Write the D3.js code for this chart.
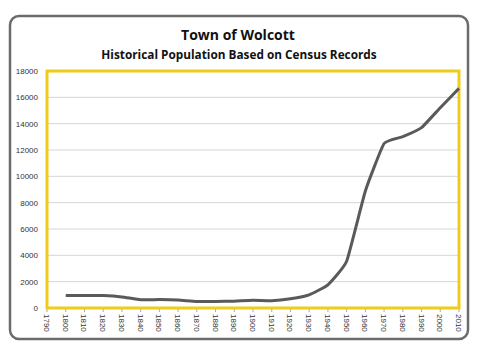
<!DOCTYPE html>
<html>
<head>
<meta charset="utf-8">
<script src="https://cdn.jsdelivr.net/npm/d3@7"></script>
<style>
  body { margin: 0; background: #fff; }
  svg { display: block; }
</style>
</head>
<body>
<script>
const years = ['1790','1800','1810','1820','1830','1840','1850','1860','1870','1880','1890','1900',
  '1910','1920','1930','1940','1950','1960','1970','1980','1990','2000','2010'];
// 1790 has no census value
const population = [null, 952, 958, 942, 843, 633, 640, 600, 491, 493, 520, 580,
  550, 700, 1000, 1765, 3553, 8889, 12495, 13008, 13700, 15215, 16680];
const yTicks = [0, 2000, 4000, 6000, 8000, 10000, 12000, 14000, 16000, 18000];

const width = 483, height = 351;
const margin = { top: 71, right: 24, bottom: 43, left: 47 };

const svg = d3.select('body').append('svg')
  .attr('width', width)
  .attr('height', height);

// outer rounded frame
svg.append('rect')
  .attr('x', 10).attr('y', 16)
  .attr('width', 458).attr('height', 323)
  .attr('rx', 9)
  .attr('fill', '#fff')
  .attr('stroke', '#6b6b6b')
  .attr('stroke-width', 2.5);

svg.append('text')
  .attr('x', 238).attr('y', 40)
  .attr('text-anchor', 'middle')
  .style('font', 'bold 14px "Open Sans", sans-serif')
  .attr('fill', '#111')
  .text('Town of Wolcott');

svg.append('text')
  .attr('x', 239).attr('y', 59)
  .attr('text-anchor', 'middle')
  .style('font', 'bold 11.8px "Open Sans", sans-serif')
  .attr('fill', '#111')
  .text('Historical Population Based on Census Records');

const x = d3.scalePoint()
  .domain(years)
  .range([margin.left, width - margin.right]);

const y = d3.scaleLinear()
  .domain([0, 18000])
  .range([height - margin.bottom, margin.top]);

// gridlines
svg.append('g')
  .selectAll('line')
  .data(yTicks)
  .join('line')
  .attr('x1', margin.left).attr('x2', width - margin.right)
  .attr('y1', d => y(d)).attr('y2', d => y(d))
  .attr('stroke', '#d6d6d6')
  .attr('stroke-width', 1);

// y labels
svg.append('g')
  .selectAll('text')
  .data(yTicks)
  .join('text')
  .attr('x', 38)
  .attr('y', d => y(d) + 3)
  .attr('text-anchor', 'end')
  .style('font', '8px "Liberation Sans Narrow", "Liberation Sans", sans-serif')
  .attr('fill', '#333')
  .text(d => d);

// x tick marks
svg.append('g')
  .selectAll('line')
  .data(years)
  .join('line')
  .attr('x1', d => x(d)).attr('x2', d => x(d))
  .attr('y1', y(0)).attr('y2', y(0) + 4)
  .attr('stroke', '#aaa');

// x labels, rotated
svg.append('g')
  .selectAll('text')
  .data(years)
  .join('text')
  .attr('transform', d => `translate(${x(d) - 3},${y(0) + 6}) rotate(90)`)
  .attr('text-anchor', 'start')
  .style('font', '8px "Liberation Sans Narrow", "Liberation Sans", sans-serif')
  .attr('fill', '#333')
  .text(d => d);

// plot area border
svg.append('rect')
  .attr('x', margin.left).attr('y', margin.top)
  .attr('width', width - margin.left - margin.right)
  .attr('height', height - margin.top - margin.bottom)
  .attr('fill', 'none')
  .attr('stroke', '#f0cc1a')
  .attr('stroke-width', 3);

const line = d3.line()
  .defined(d => d.v != null)
  .x(d => x(d.year))
  .y(d => y(d.v))
  .curve(d3.curveCardinal.tension(0.6));

svg.append('path')
  .datum(years.map((year, i) => ({ year, v: population[i] })))
  .attr('d', line)
  .attr('fill', 'none')
  .attr('stroke', '#5a5a5a')
  .attr('stroke-width', 3);
</script>
</body>
</html>
